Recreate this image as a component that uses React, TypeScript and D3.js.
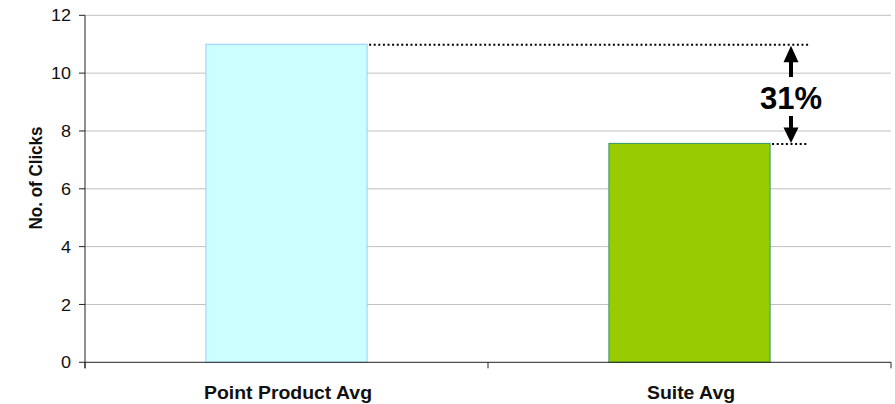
import React from "react";
import * as d3 from "d3";

const categories = ["Point Product Avg", "Suite Avg"];
const values = [11.0, 7.57];
const yTicks = [0, 2, 4, 6, 8, 10, 12];
const barFills = ["#CCFFFF", "#99CC00"];
const barStrokes = ["#99CCFF", "#339966"];
const diffLabel = "31%";
const yTitle = "No. of Clicks";

const W = 895;
const H = 404;
const FONT = "'Liberation Sans', Arial, Helvetica, sans-serif";

export default function App() {
  const left = 85;
  const right = 891;
  const top = 15.3;
  const bottom = 362.3;

  const x = d3.scaleBand<string>().domain(categories).range([left, right]).paddingInner(0.6).paddingOuter(0.3);
  const y = d3.scaleLinear().domain([0, 12]).range([bottom, top]);
  const step = x.step();
  const boundaries = [left, left + step, right];

  const bw = x.bandwidth();
  const b1Right = (x(categories[0]) as number) + bw;
  const b2Right = (x(categories[1]) as number) + bw;
  const y1 = y(values[0]);
  const y2 = y(values[1]);
  const dotEnd = b2Right + 38;
  const ax = 791;

  return (
    <svg width={W} height={H} style={{ position: "absolute", left: 0, top: 0, background: "#fff" }} fontFamily={FONT}>
      {/* gridlines */}
      {yTicks.filter((t) => t > 0).map((t) => (
        <line key={"g" + t} x1={left} x2={right} y1={y(t)} y2={y(t)} stroke="#C0C0C0" strokeWidth={1} />
      ))}
      {/* bars */}
      {categories.map((c, i) => (
        <rect
          key={c}
          x={x(c)}
          y={y(values[i])}
          width={bw}
          height={bottom - y(values[i])}
          fill={barFills[i]}
          stroke={barStrokes[i]}
          strokeWidth={1}
        />
      ))}
      {/* y axis */}
      <line x1={left} x2={left} y1={top} y2={bottom + 6} stroke="#222" strokeWidth={1} />
      {yTicks.map((t) => (
        <g key={"t" + t}>
          <line x1={left - 6} x2={left} y1={y(t)} y2={y(t)} stroke="#222" strokeWidth={1} />
          <text
            transform={`translate(${left - 14},${y(t)}) scale(1.06,1)`}
            dy="0.36em"
            textAnchor="end"
            fontSize={17}
            fill="#111"
          >
            {t}
          </text>
        </g>
      ))}
      {/* x axis */}
      <line x1={left} x2={right} y1={bottom} y2={bottom} stroke="#222" strokeWidth={1} />
      {boundaries.map((b, i) => (
        <line key={"xb" + i} x1={b} x2={b} y1={bottom} y2={bottom + 6} stroke="#222" strokeWidth={1} />
      ))}
      {categories.map((c) => (
        <text
          key={"l" + c}
          transform={`translate(${(x(c) as number) + bw / 2 + 1.5},399) scale(1.08,1)`}
          textAnchor="middle"
          fontSize={18}
          fontWeight="bold"
          fill="#111"
        >
          {c}
        </text>
      ))}
      {/* y title */}
      <text
        transform={`translate(41.5,178) rotate(-90) scale(1,1.1)`}
        textAnchor="middle"
        fontSize={17}
        fontWeight="bold"
        fill="#111"
      >
        {yTitle}
      </text>
      {/* annotation dotted lines */}
      <line x1={b1Right + 2} x2={dotEnd} y1={y1 + 0.5} y2={y1 + 0.5} stroke="#000" strokeWidth={2} strokeDasharray="2,2.6" />
      <line x1={b2Right + 2} x2={dotEnd} y1={y2 + 0.5} y2={y2 + 0.5} stroke="#000" strokeWidth={2} strokeDasharray="2,2.6" />
      {/* arrows */}
      <line x1={ax} x2={ax} y1={y1 + 16} y2={77} stroke="#000" strokeWidth={4} />
      <path d={`M${ax},${y1 + 1.5} L${ax - 7.5},${y1 + 18} L${ax + 7.5},${y1 + 18} Z`} fill="#000" />
      <line x1={ax} x2={ax} y1={116} y2={y2 - 14} stroke="#000" strokeWidth={4} />
      <path d={`M${ax},${y2 - 0.5} L${ax - 7.5},${y2 - 16} L${ax + 7.5},${y2 - 16} Z`} fill="#000" />
      <text x={ax} y={108.5} textAnchor="middle" fontSize={31} fontWeight="bold" fill="#000">
        {diffLabel}
      </text>
    </svg>
  );
}
